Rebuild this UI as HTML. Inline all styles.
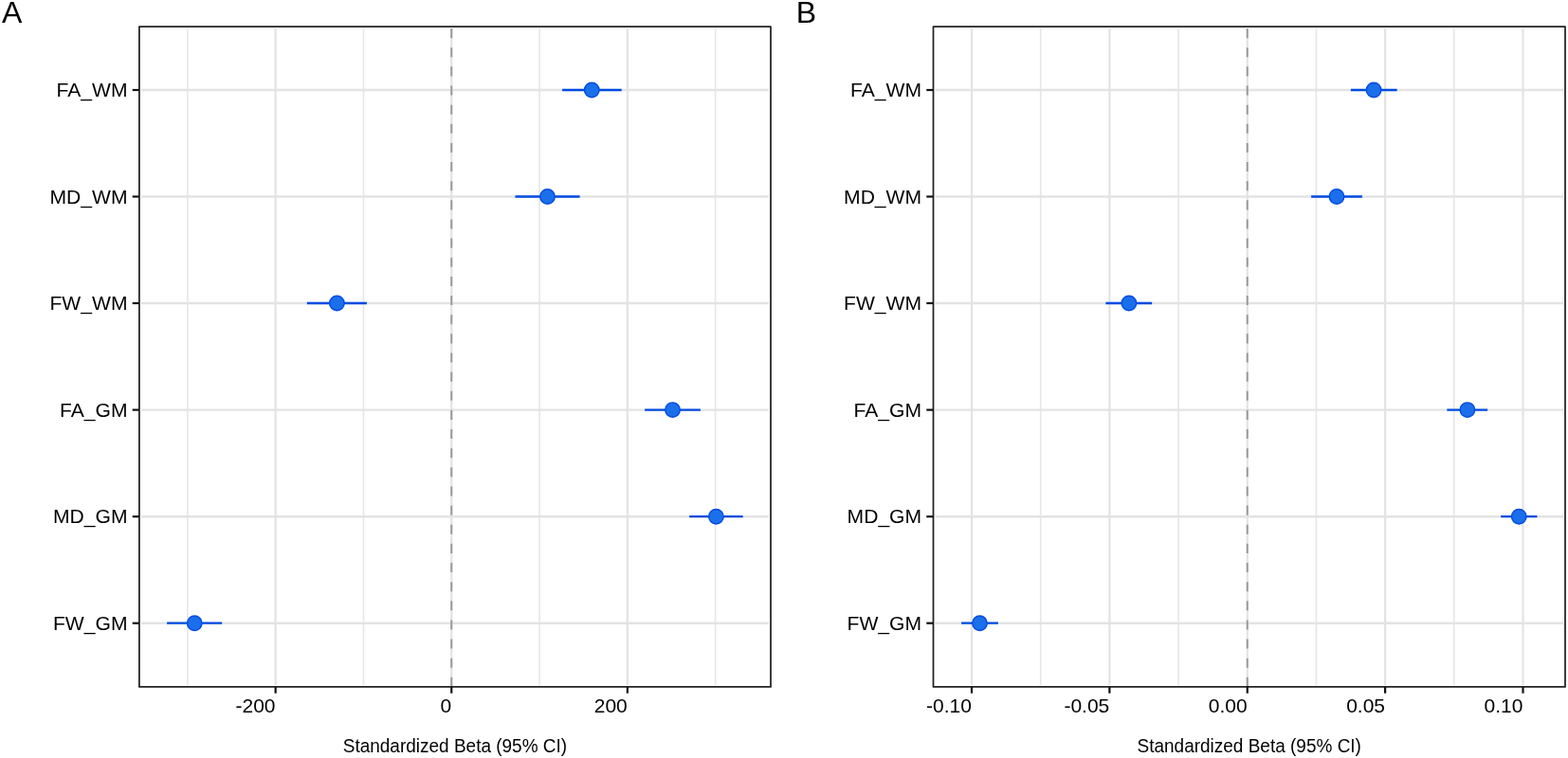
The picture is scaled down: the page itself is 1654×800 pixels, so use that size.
<!DOCTYPE html>
<html><head><meta charset="utf-8"><title>Forest plot</title>
<style>html,body{margin:0;padding:0;background:#fff;width:1654px;height:800px;overflow:hidden}svg{display:block}text{font-family:"Liberation Sans",Arial,sans-serif;fill:#000}</style></head><body>
<svg width="1654" height="800" viewBox="0 0 1654 800">
<rect x="0" y="0" width="1654" height="800" fill="#fff"/>
<g>
<line x1="197.85" y1="30.0" x2="197.85" y2="722.9" stroke="#e6e6e6" stroke-width="1.6"/>
<line x1="383.45" y1="30.0" x2="383.45" y2="722.9" stroke="#e6e6e6" stroke-width="1.6"/>
<line x1="569.05" y1="30.0" x2="569.05" y2="722.9" stroke="#e6e6e6" stroke-width="1.6"/>
<line x1="754.65" y1="30.0" x2="754.65" y2="722.9" stroke="#e6e6e6" stroke-width="1.6"/>
<line x1="290.65" y1="30.0" x2="290.65" y2="722.9" stroke="#e3e3e3" stroke-width="2.2"/>
<line x1="476.25" y1="30.0" x2="476.25" y2="722.9" stroke="#e3e3e3" stroke-width="2.2"/>
<line x1="661.85" y1="30.0" x2="661.85" y2="722.9" stroke="#e3e3e3" stroke-width="2.2"/>
<line x1="148.9" y1="95.0" x2="811.0" y2="95.0" stroke="#e3e3e3" stroke-width="2.4"/>
<line x1="148.9" y1="207.5" x2="811.0" y2="207.5" stroke="#e3e3e3" stroke-width="2.4"/>
<line x1="148.9" y1="320.0" x2="811.0" y2="320.0" stroke="#e3e3e3" stroke-width="2.4"/>
<line x1="148.9" y1="432.6" x2="811.0" y2="432.6" stroke="#e3e3e3" stroke-width="2.4"/>
<line x1="148.9" y1="545.2" x2="811.0" y2="545.2" stroke="#e3e3e3" stroke-width="2.4"/>
<line x1="148.9" y1="657.7" x2="811.0" y2="657.7" stroke="#e3e3e3" stroke-width="2.4"/>
<line x1="476.25" y1="724.9" x2="476.25" y2="28.0" stroke="#9a9a9a" stroke-width="2" stroke-dasharray="10.07 10.07"/>
<line x1="593.10" y1="95.0" x2="655.65" y2="95.0" stroke="#004be2" stroke-width="2.3"/>
<circle cx="624.25" cy="95.0" r="7.75" fill="#1b6feb" stroke="#004be2" stroke-width="1.4"/>
<line x1="543.50" y1="207.5" x2="611.60" y2="207.5" stroke="#004be2" stroke-width="2.3"/>
<circle cx="577.5" cy="207.5" r="7.75" fill="#1b6feb" stroke="#004be2" stroke-width="1.4"/>
<line x1="323.85" y1="320.0" x2="386.90" y2="320.0" stroke="#004be2" stroke-width="2.3"/>
<circle cx="355.4" cy="320.0" r="7.75" fill="#1b6feb" stroke="#004be2" stroke-width="1.4"/>
<line x1="680.10" y1="432.6" x2="738.90" y2="432.6" stroke="#004be2" stroke-width="2.3"/>
<circle cx="709.5" cy="432.6" r="7.75" fill="#1b6feb" stroke="#004be2" stroke-width="1.4"/>
<line x1="727.10" y1="545.2" x2="783.65" y2="545.2" stroke="#004be2" stroke-width="2.3"/>
<circle cx="755.4" cy="545.2" r="7.75" fill="#1b6feb" stroke="#004be2" stroke-width="1.4"/>
<line x1="176.10" y1="657.7" x2="234.15" y2="657.7" stroke="#004be2" stroke-width="2.3"/>
<circle cx="205.25" cy="657.7" r="7.75" fill="#1b6feb" stroke="#004be2" stroke-width="1.4"/>
<rect x="146.9" y="28.0" width="666.10" height="696.90" fill="none" stroke="#222222" stroke-width="1.75" stroke-linejoin="round"/>
<line x1="139.70" y1="95.0" x2="146.9" y2="95.0" stroke="#111111" stroke-width="2.2"/>
<text x="134.50" y="102.10" font-size="21.1" text-anchor="end">FA_WM</text>
<line x1="139.70" y1="207.5" x2="146.9" y2="207.5" stroke="#111111" stroke-width="2.2"/>
<text x="134.50" y="214.60" font-size="21.1" text-anchor="end">MD_WM</text>
<line x1="139.70" y1="320.0" x2="146.9" y2="320.0" stroke="#111111" stroke-width="2.2"/>
<text x="134.50" y="327.10" font-size="21.1" text-anchor="end">FW_WM</text>
<line x1="139.70" y1="432.6" x2="146.9" y2="432.6" stroke="#111111" stroke-width="2.2"/>
<text x="134.50" y="439.70" font-size="21.1" text-anchor="end">FA_GM</text>
<line x1="139.70" y1="545.2" x2="146.9" y2="545.2" stroke="#111111" stroke-width="2.2"/>
<text x="134.50" y="552.30" font-size="21.1" text-anchor="end">MD_GM</text>
<line x1="139.70" y1="657.7" x2="146.9" y2="657.7" stroke="#111111" stroke-width="2.2"/>
<text x="134.50" y="664.80" font-size="21.1" text-anchor="end">FW_GM</text>
<line x1="290.65" y1="724.9" x2="290.65" y2="731.70" stroke="#111111" stroke-width="2.2"/>
<text x="290.55" y="752.30" font-size="21.0" text-anchor="end">-200</text>
<line x1="476.25" y1="724.9" x2="476.25" y2="731.70" stroke="#111111" stroke-width="2.2"/>
<text x="476.15" y="752.30" font-size="21.0" text-anchor="end">0</text>
<line x1="661.85" y1="724.9" x2="661.85" y2="731.70" stroke="#111111" stroke-width="2.2"/>
<text x="661.75" y="752.30" font-size="21.0" text-anchor="end">200</text>
<text x="479.95" y="793.8" font-size="19.7" text-anchor="middle" textLength="236.4" lengthAdjust="spacingAndGlyphs">Standardized Beta (95% CI)</text>
<text x="2" y="24" font-size="32">A</text>
</g>
<g>
<line x1="1097.69" y1="30.0" x2="1097.69" y2="722.9" stroke="#e6e6e6" stroke-width="1.6"/>
<line x1="1243.06" y1="30.0" x2="1243.06" y2="722.9" stroke="#e6e6e6" stroke-width="1.6"/>
<line x1="1388.44" y1="30.0" x2="1388.44" y2="722.9" stroke="#e6e6e6" stroke-width="1.6"/>
<line x1="1533.81" y1="30.0" x2="1533.81" y2="722.9" stroke="#e6e6e6" stroke-width="1.6"/>
<line x1="1025.00" y1="30.0" x2="1025.00" y2="722.9" stroke="#e3e3e3" stroke-width="2.2"/>
<line x1="1170.38" y1="30.0" x2="1170.38" y2="722.9" stroke="#e3e3e3" stroke-width="2.2"/>
<line x1="1315.75" y1="30.0" x2="1315.75" y2="722.9" stroke="#e3e3e3" stroke-width="2.2"/>
<line x1="1461.12" y1="30.0" x2="1461.12" y2="722.9" stroke="#e3e3e3" stroke-width="2.2"/>
<line x1="1606.50" y1="30.0" x2="1606.50" y2="722.9" stroke="#e3e3e3" stroke-width="2.2"/>
<line x1="986.5" y1="95.0" x2="1649.0" y2="95.0" stroke="#e3e3e3" stroke-width="2.4"/>
<line x1="986.5" y1="207.5" x2="1649.0" y2="207.5" stroke="#e3e3e3" stroke-width="2.4"/>
<line x1="986.5" y1="320.0" x2="1649.0" y2="320.0" stroke="#e3e3e3" stroke-width="2.4"/>
<line x1="986.5" y1="432.6" x2="1649.0" y2="432.6" stroke="#e3e3e3" stroke-width="2.4"/>
<line x1="986.5" y1="545.2" x2="1649.0" y2="545.2" stroke="#e3e3e3" stroke-width="2.4"/>
<line x1="986.5" y1="657.7" x2="1649.0" y2="657.7" stroke="#e3e3e3" stroke-width="2.4"/>
<line x1="1315.75" y1="724.9" x2="1315.75" y2="28.0" stroke="#9a9a9a" stroke-width="2" stroke-dasharray="10.07 10.07"/>
<line x1="1424.85" y1="95.0" x2="1473.65" y2="95.0" stroke="#004be2" stroke-width="2.3"/>
<circle cx="1449.1" cy="95.0" r="7.75" fill="#1b6feb" stroke="#004be2" stroke-width="1.4"/>
<line x1="1383.10" y1="207.5" x2="1436.90" y2="207.5" stroke="#004be2" stroke-width="2.3"/>
<circle cx="1410" cy="207.5" r="7.75" fill="#1b6feb" stroke="#004be2" stroke-width="1.4"/>
<line x1="1166.35" y1="320.0" x2="1215.15" y2="320.0" stroke="#004be2" stroke-width="2.3"/>
<circle cx="1190.9" cy="320.0" r="7.75" fill="#1b6feb" stroke="#004be2" stroke-width="1.4"/>
<line x1="1526.35" y1="432.6" x2="1569.15" y2="432.6" stroke="#004be2" stroke-width="2.3"/>
<circle cx="1547.9" cy="432.6" r="7.75" fill="#1b6feb" stroke="#004be2" stroke-width="1.4"/>
<line x1="1583.10" y1="545.2" x2="1621.40" y2="545.2" stroke="#004be2" stroke-width="2.3"/>
<circle cx="1602.25" cy="545.2" r="7.75" fill="#1b6feb" stroke="#004be2" stroke-width="1.4"/>
<line x1="1014.10" y1="657.7" x2="1052.90" y2="657.7" stroke="#004be2" stroke-width="2.3"/>
<circle cx="1033.5" cy="657.7" r="7.75" fill="#1b6feb" stroke="#004be2" stroke-width="1.4"/>
<rect x="984.5" y="28.0" width="666.50" height="696.90" fill="none" stroke="#222222" stroke-width="1.75" stroke-linejoin="round"/>
<line x1="977.30" y1="95.0" x2="984.5" y2="95.0" stroke="#111111" stroke-width="2.2"/>
<text x="972.10" y="102.10" font-size="21.1" text-anchor="end">FA_WM</text>
<line x1="977.30" y1="207.5" x2="984.5" y2="207.5" stroke="#111111" stroke-width="2.2"/>
<text x="972.10" y="214.60" font-size="21.1" text-anchor="end">MD_WM</text>
<line x1="977.30" y1="320.0" x2="984.5" y2="320.0" stroke="#111111" stroke-width="2.2"/>
<text x="972.10" y="327.10" font-size="21.1" text-anchor="end">FW_WM</text>
<line x1="977.30" y1="432.6" x2="984.5" y2="432.6" stroke="#111111" stroke-width="2.2"/>
<text x="972.10" y="439.70" font-size="21.1" text-anchor="end">FA_GM</text>
<line x1="977.30" y1="545.2" x2="984.5" y2="545.2" stroke="#111111" stroke-width="2.2"/>
<text x="972.10" y="552.30" font-size="21.1" text-anchor="end">MD_GM</text>
<line x1="977.30" y1="657.7" x2="984.5" y2="657.7" stroke="#111111" stroke-width="2.2"/>
<text x="972.10" y="664.80" font-size="21.1" text-anchor="end">FW_GM</text>
<line x1="1025.00" y1="724.9" x2="1025.00" y2="731.70" stroke="#111111" stroke-width="2.2"/>
<text x="1024.90" y="752.30" font-size="21.0" text-anchor="end">-0.10</text>
<line x1="1170.38" y1="724.9" x2="1170.38" y2="731.70" stroke="#111111" stroke-width="2.2"/>
<text x="1170.28" y="752.30" font-size="21.0" text-anchor="end">-0.05</text>
<line x1="1315.75" y1="724.9" x2="1315.75" y2="731.70" stroke="#111111" stroke-width="2.2"/>
<text x="1315.65" y="752.30" font-size="21.0" text-anchor="end">0.00</text>
<line x1="1461.12" y1="724.9" x2="1461.12" y2="731.70" stroke="#111111" stroke-width="2.2"/>
<text x="1461.03" y="752.30" font-size="21.0" text-anchor="end">0.05</text>
<line x1="1606.50" y1="724.9" x2="1606.50" y2="731.70" stroke="#111111" stroke-width="2.2"/>
<text x="1606.40" y="752.30" font-size="21.0" text-anchor="end">0.10</text>
<text x="1317.75" y="793.8" font-size="19.7" text-anchor="middle" textLength="236.4" lengthAdjust="spacingAndGlyphs">Standardized Beta (95% CI)</text>
<text x="839.7" y="24" font-size="32">B</text>
</g>
</svg>
</body></html>
